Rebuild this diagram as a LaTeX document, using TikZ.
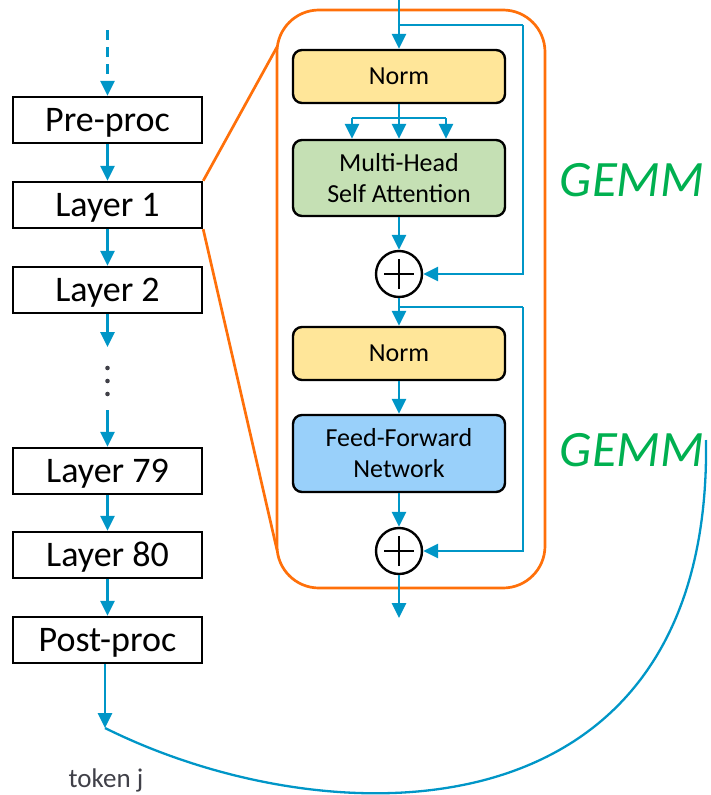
\documentclass[tikz,border=0pt]{standalone}
\usepackage{fontspec}
\setmainfont{Carlito}
\usetikzlibrary{arrows.meta,calc}
\definecolor{flowblue}{RGB}{0,150,199}
\definecolor{frameorange}{RGB}{255,112,10}
\definecolor{normfill}{RGB}{255,230,153}
\definecolor{attfill}{RGB}{197,224,180}
\definecolor{ffnfill}{RGB}{153,208,250}
\definecolor{gemmgreen}{RGB}{0,176,80}
\definecolor{dotgrey}{RGB}{64,64,72}
\tikzset{
  flow/.style={draw=flowblue,line width=2.7pt,-{Triangle[width=14pt,length=15pt]}},
  flowline/.style={draw=flowblue,line width=2.7pt},
  layerbox/.style={draw=black,line width=2.4pt,minimum width=189pt,minimum height=46pt,inner sep=0pt,text depth=1pt,font=\fontsize{36}{40}\selectfont},
  blockbox/.style={draw=black,line width=2.4pt,rounded corners=9pt,minimum width=212pt,inner sep=0pt,align=center,font=\fontsize{26}{31}\selectfont},
  plusnode/.style={draw=black,line width=2.4pt,circle,minimum size=46pt,inner sep=0pt,
    path picture={\draw[line width=2.4pt] ([xshift=-15pt]path picture bounding box.center) -- ([xshift=15pt]path picture bounding box.center);
                  \draw[line width=2.4pt] ([yshift=-15pt]path picture bounding box.center) -- ([yshift=15pt]path picture bounding box.center);}},
  gemm/.style={text=gemmgreen,font=\fontsize{51}{54}\selectfont\itshape},
  frame/.style={draw=frameorange,line width=2.7pt}
}
\begin{document}
\begin{tikzpicture}[x=1pt,y=-1pt]
\useasboundingbox (0,0) rectangle (710,795);

% left column
\node[layerbox] (pre) at (107.5,120) {Pre-proc};
\node[layerbox] (l1) at (107.5,205) {Layer 1};
\node[layerbox] (l2) at (107.5,290) {Layer 2};
\node[layerbox] (l79) at (107.5,471) {Layer 79};
\node[layerbox] (l80) at (107.5,555) {Layer 80};
\node[layerbox] (post) at (107.5,640) {Post-proc};

\coordinate (din) at (107.5,30);
\draw[flow,dashed,dash pattern=on 10pt off 7pt] (din) -- (pre.north);
\draw[flow] (pre) -- (l1);
\draw[flow] (l1) -- (l2);
\coordinate (d1) at (107.5,347);
\coordinate (d2) at (107.5,410);
\draw[flow] (l2) -- (d1);
\foreach \yy in {368,381,394} \fill[dotgrey] (107.5,\yy) circle (2.3pt);
\draw[flow] (d2) -- (l79.north);
\draw[flow] (l79) -- (l80);
\draw[flow] (l80) -- (post);
\coordinate (tok) at (105,728);
\draw[flow] (post.south -| tok) -- (tok);
\node[text=dotgrey,font=\fontsize{27}{30}\selectfont] (tokj) at (106,780) {token j};

% orange frame
\draw[frame,rounded corners=42pt] (277,10) rectangle (545,588);
\coordinate (ft) at (277,47);
\coordinate (fb) at (277,550);
\draw[frame] (l1.north east) -- (ft);
\draw[frame] (l1.south east) -- (fb);

% inner block
\coordinate (in) at (399,0);
\node[blockbox,fill=normfill,minimum height=53pt] (n1) at (399,76.5) {Norm};
\node[blockbox,fill=attfill,minimum height=76pt] (mha) at (399,178) {Multi-Head\\Self Attention};
\node[plusnode] (p1) at (399,274) {};
\node[blockbox,fill=normfill,minimum height=53pt] (n2) at (399,353.5) {Norm};
\node[blockbox,fill=ffnfill,minimum height=77pt] (ffn) at (399,453.5) {Feed-Forward\\Network};
\node[plusnode] (p2) at (399,551) {};
\coordinate (out) at (399,618);

\draw[flow] (in) -- (n1);
\coordinate (b1) at (399,25);
\coordinate (r1) at (523,25);
\draw[flowline] (b1) -- (r1);
\draw[flow] (r1) |- (p1.east);

\coordinate (s0) at (399,118);
\coordinate (sl) at (352,118);
\coordinate (sr) at (446,118);
\draw[flowline] (n1.south) -- (s0);
\draw[flowline] (sl) -- (sr);
\draw[flow] (sl) -- (mha.north -| sl);
\draw[flow] (s0) -- (mha.north);
\draw[flow] (sr) -- (mha.north -| sr);

\draw[flow] (mha) -- (p1);
\draw[flow] (p1) -- (n2);
\coordinate (b2) at (399,307);
\coordinate (r2) at (523,307);
\draw[flowline] (b2) -- (r2);
\draw[flow] (r2) |- (p2.east);
\draw[flow] (n2) -- (ffn);
\draw[flow] (ffn) -- (p2);
\draw[flow] (p2) -- (out);

% GEMM labels
\node[gemm] (g1) at (632,180) {GEMM};
\node[gemm] (g2) at (632,450) {GEMM};

% return curve
\coordinate (cend) at (706,440);
\draw[flowline,line width=2.3pt] (tok) .. controls (330,840) and (712,845) .. (cend);
\end{tikzpicture}
\end{document}
